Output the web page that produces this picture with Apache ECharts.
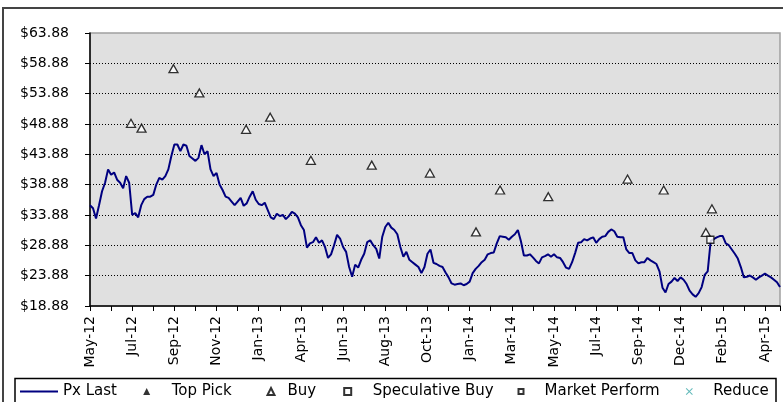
<!DOCTYPE html>
<html>
<head>
<meta charset="utf-8">
<script src="https://cdn.jsdelivr.net/npm/echarts@6/dist/echarts.min.js"></script>
<style>
  html, body { margin: 0; padding: 0; background: #fff; }
  #chart { width: 783px; height: 402px; }
</style>
</head>
<body>
<div id="chart"></div>
<script>
// closing price, one value every ~3px of the original plot (index = trading step)
var pxLast = [
  35.5, 35.0, 33.3, 35.5, 37.8, 39.2, 41.4, 40.5, 40.9, 39.7,
  39.2, 38.3, 40.3, 39.2, 33.9, 34.2, 33.5, 35.5, 36.5, 36.9,
  36.9, 37.2, 38.9, 40.0, 39.7, 40.3, 41.4, 43.6, 45.5, 45.5,
  44.4, 45.5, 45.3, 43.6, 43.2, 42.8, 43.3, 45.4, 43.9, 44.4,
  41.4, 40.3, 40.8, 38.9, 38.0, 36.9, 36.7, 36.1, 35.5, 36.1,
  36.7, 35.4, 35.8, 36.9, 37.8, 36.4, 35.7, 35.5, 35.9, 34.7,
  33.5, 33.2, 34.1, 33.7, 33.9, 33.2, 33.7, 34.4, 34.1, 33.5,
  32.2, 31.4, 28.5, 29.2, 29.4, 30.2, 29.3, 29.7, 28.6, 26.8,
  27.4, 28.9, 30.6, 30.0, 28.6, 27.8, 25.3, 23.7, 25.7, 25.2,
  26.5, 27.5, 29.4, 29.7, 28.9, 28.3, 26.7, 30.3, 31.9, 32.6,
  31.8, 31.4, 30.7, 28.6, 27.0, 27.8, 26.5, 26.1, 25.7, 25.3,
  24.3, 25.3, 27.5, 28.2, 26.0, 25.8, 25.5, 25.3, 24.4, 23.6,
  22.6, 22.4, 22.5, 22.6, 22.3, 22.5, 22.9, 24.3, 25.0, 25.5,
  26.1, 26.5, 27.4, 27.6, 27.7, 29.2, 30.4, 30.3, 30.2, 29.8,
  30.3, 30.7, 31.4, 29.6, 27.2, 27.2, 27.4, 26.9, 26.3, 25.9,
  26.9, 27.1, 27.4, 27.0, 27.4, 26.9, 26.8, 26.1, 25.2, 25.0,
  26.1, 27.6, 29.3, 29.4, 29.9, 29.7, 30.0, 30.2, 29.3, 29.9,
  30.3, 30.4, 31.1, 31.5, 31.2, 30.3, 30.2, 30.2, 28.2, 27.6,
  27.6, 26.4, 25.9, 26.1, 26.1, 26.8, 26.4, 26.1, 25.8, 24.6,
  21.9, 21.1, 22.5, 22.9, 23.5, 23.0, 23.6, 23.2, 22.5, 21.4,
  20.8, 20.4, 21.0, 22.0, 24.0, 24.6, 29.6, 29.9, 30.2, 30.4,
  30.4, 29.2, 28.9, 28.2, 27.5, 26.7, 25.3, 23.6, 23.7, 23.9,
  23.6, 23.2, 23.6, 23.9, 24.2, 23.9, 23.6, 23.2, 22.8, 22.0
];

// one label every 14 steps (every second tick)
var tickLabels = ['May-12', 'Jul-12', 'Sep-12', 'Nov-12', 'Jan-13', 'Apr-13', 'Jun-13',
  'Aug-13', 'Oct-13', 'Jan-14', 'Mar-14', 'May-14', 'Jul-14', 'Sep-14', 'Dec-14',
  'Feb-15', 'Apr-15'];

// rating markers: position (step index) and target price
var buyIdx   = [13.6, 17.1, 27.7, 36.3, 51.8, 59.8, 73.3, 93.5, 112.8, 128.1, 136.1, 152.1, 178.4, 190.4, 206.4, 204.4];
var buyPrice = [49.0, 48.2, 58.0, 54.0, 48.0, 50.0, 42.9, 42.1, 40.8, 31.1, 38.0, 36.9, 39.8, 38.0, 34.9, 31.0];
var specIdx   = [205.9];
var specPrice = [29.8];

var font = 'DejaVu Sans';
var chart = echarts.init(document.getElementById('chart'));

function pairs(xs, ys) {
  return xs.map(function (x, i) { return [x, ys[i]]; });
}

// one legend per entry so each can sit where the original puts it
function leg(name, left, w, h, gap, icon) {
  var item = icon ? {name: name, icon: icon} : name;
  return {
    data: [item], top: 384, left: left, padding: 0,
    itemWidth: w, itemHeight: h,
    textStyle: {fontFamily: font, fontSize: 15, color: '#000', padding: [0, 0, 0, gap]}
  };
}

chart.setOption({
  animation: false,
  graphic: [
    {type: 'rect', shape: {x: 3, y: 8, width: 820, height: 500},
      style: {fill: 'none', stroke: '#444', lineWidth: 2}},
    {type: 'rect', shape: {x: 15, y: 378.5, width: 761, height: 40},
      style: {fill: 'none', stroke: '#000', lineWidth: 1.5}}
  ],
  legend: [
    leg('Px Last', 20, 38, 2, 0, 'rect'),
    leg('Top Pick', 143.2, 7, 7, 16.5),
    leg('Buy', 266.5, 7, 7, 8),
    leg('Speculative Buy', 343.2, 7, 7, 16.5),
    leg('Market Perform', 517.5, 5, 5, 16),
    leg('Reduce', 685.8, 7, 7, 15.5)
  ],
  grid: {
    left: 90, top: 33, right: 3, bottom: 96,
    show: true, backgroundColor: '#e0e0e0', borderColor: '#a0a0a0', borderWidth: 1.5
  },
  xAxis: {
    type: 'value', min: 0, max: pxLast.length - 1, interval: 7,
    axisLine: {show: true, lineStyle: {color: '#000', width: 1.5}},
    axisTick: {show: true, length: 5, lineStyle: {color: '#000', width: 1}},
    splitLine: {show: false},
    axisLabel: {
      rotate: 90, margin: 10, fontFamily: font, fontSize: 14, color: '#000',
      formatter: function (v) {
        return v % 14 === 0 ? (tickLabels[v / 14] || '') : '';
      }
    }
  },
  yAxis: {
    type: 'value', min: 18.88, max: 63.88, interval: 5,
    axisLine: {show: true, lineStyle: {color: '#000', width: 1.5}},
    axisTick: {show: true, length: 5, lineStyle: {color: '#000', width: 1}},
    splitLine: {
      show: true, showMinLine: false, showMaxLine: false,
      lineStyle: {color: '#000', type: [1, 2], width: 1}
    },
    axisLabel: {
      margin: 21, fontFamily: font, fontSize: 14, color: '#000',
      formatter: function (v) { return '$' + v.toFixed(2); }
    }
  },
  series: [
    {
      name: 'Px Last', type: 'line', data: pxLast.map(function (v, i) { return [i, v]; }),
      symbol: 'none', lineStyle: {color: '#000080', width: 2}, itemStyle: {color: '#000080'}, z: 2
    },
    {
      name: 'Top Pick', type: 'scatter', data: [], symbol: 'triangle', symbolSize: 8,
      itemStyle: {color: '#000'}
    },
    {
      name: 'Buy', type: 'scatter', data: pairs(buyIdx, buyPrice), symbol: 'triangle', symbolSize: [9, 8],
      itemStyle: {color: '#fff', borderColor: '#000', borderWidth: 1.3}, z: 3
    },
    {
      name: 'Speculative Buy', type: 'scatter', data: pairs(specIdx, specPrice), symbol: 'rect', symbolSize: 7,
      itemStyle: {color: '#fff', borderColor: '#000', borderWidth: 1.3}, z: 3
    },
    {
      name: 'Market Perform', type: 'scatter', data: [], symbol: 'rect', symbolSize: 5,
      itemStyle: {color: '#fff', borderColor: '#000', borderWidth: 1.3}
    },
    {
      name: 'Reduce', type: 'scatter', data: [],
      symbol: 'path://M0,1L1,0L5,4L9,0L10,1L6,5L10,9L9,10L5,6L1,10L0,9L4,5Z', symbolSize: 8,
      itemStyle: {color: '#3aa8a8'}
    }
  ]
});
</script>
</body>
</html>
